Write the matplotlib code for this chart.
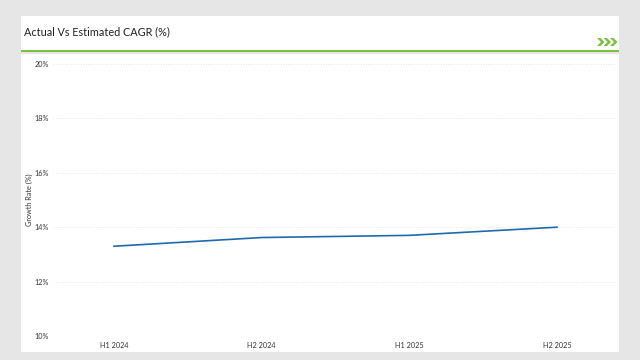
import matplotlib
matplotlib.use("Agg")
import matplotlib.pyplot as plt
from matplotlib.patches import Rectangle, Polygon

plt.rcParams['font.family'] = ['Lato', 'DejaVu Sans']

# data
periods = ["H1 2024", "H2 2024", "H1 2025", "H2 2025"]
growth = [13.3, 13.62, 13.7, 14.0]
y_ticks = [10, 12, 14, 16, 18, 20]

W, H = 640, 360
fig = plt.figure(figsize=(6.4, 3.6), dpi=100)
fig.patch.set_facecolor("#e6e6e6")


def px_rect(x0, y0, x1, y1, color):
    # rectangle given in pixel coords, y measured from the top
    fig.patches.append(Rectangle((x0 / W, 1 - y1 / H), (x1 - x0) / W, (y1 - y0) / H,
                                 transform=fig.transFigure, facecolor=color,
                                 edgecolor="none", zorder=-2))


# header and body cards
px_rect(21, 16, 619, 50, "white")
px_rect(21, 50, 619, 52, "#7ac143")
px_rect(21, 54, 619, 352, "white")

# chevrons in header
for i in range(3):
    x0 = 597 + i * 6.5
    pts = [(x0, 38), (x0 + 3.5, 38), (x0 + 7.5, 42), (x0 + 3.5, 46), (x0, 46), (x0 + 4, 42)]
    fig.patches.append(Polygon([(x / W, 1 - y / H) for x, y in pts], closed=True,
                               transform=fig.transFigure, facecolor="#7ac143",
                               edgecolor="none", zorder=-1))

fig.text(24 / W, 1 - 32 / H, "Actual Vs Estimated CAGR (%)", fontsize=7.8,
         color="#222222", ha="left", va="center")

ax = fig.add_axes([53 / W, 24 / H, 562 / W, 272 / H])
ax.set_zorder(5)
ax.set_facecolor("none")
ax.plot(range(len(periods)), growth, color="#1f6aad", linewidth=1.2)

ax.set_xlim(-0.413, 3.393)
ax.set_ylim(10, 20)
ax.set_yticks(y_ticks)
ax.set_yticklabels([f"{v}%" for v in y_ticks])
ax.set_xticks(range(len(periods)))
ax.set_xticklabels(periods)
ax.tick_params(axis="both", length=0, labelsize=5.2, colors="#333333")
ax.tick_params(axis="y", pad=3)
ax.tick_params(axis="x", pad=4)
ax.grid(axis="y", linestyle=(0, (1, 2)), color="#dddddd", linewidth=0.6)
for s in ax.spines.values():
    s.set_visible(False)
ax.set_ylabel("Growth Rate (%)", fontsize=5.2, color="#333333", labelpad=1)

fig.savefig("out.png", dpi=100)
